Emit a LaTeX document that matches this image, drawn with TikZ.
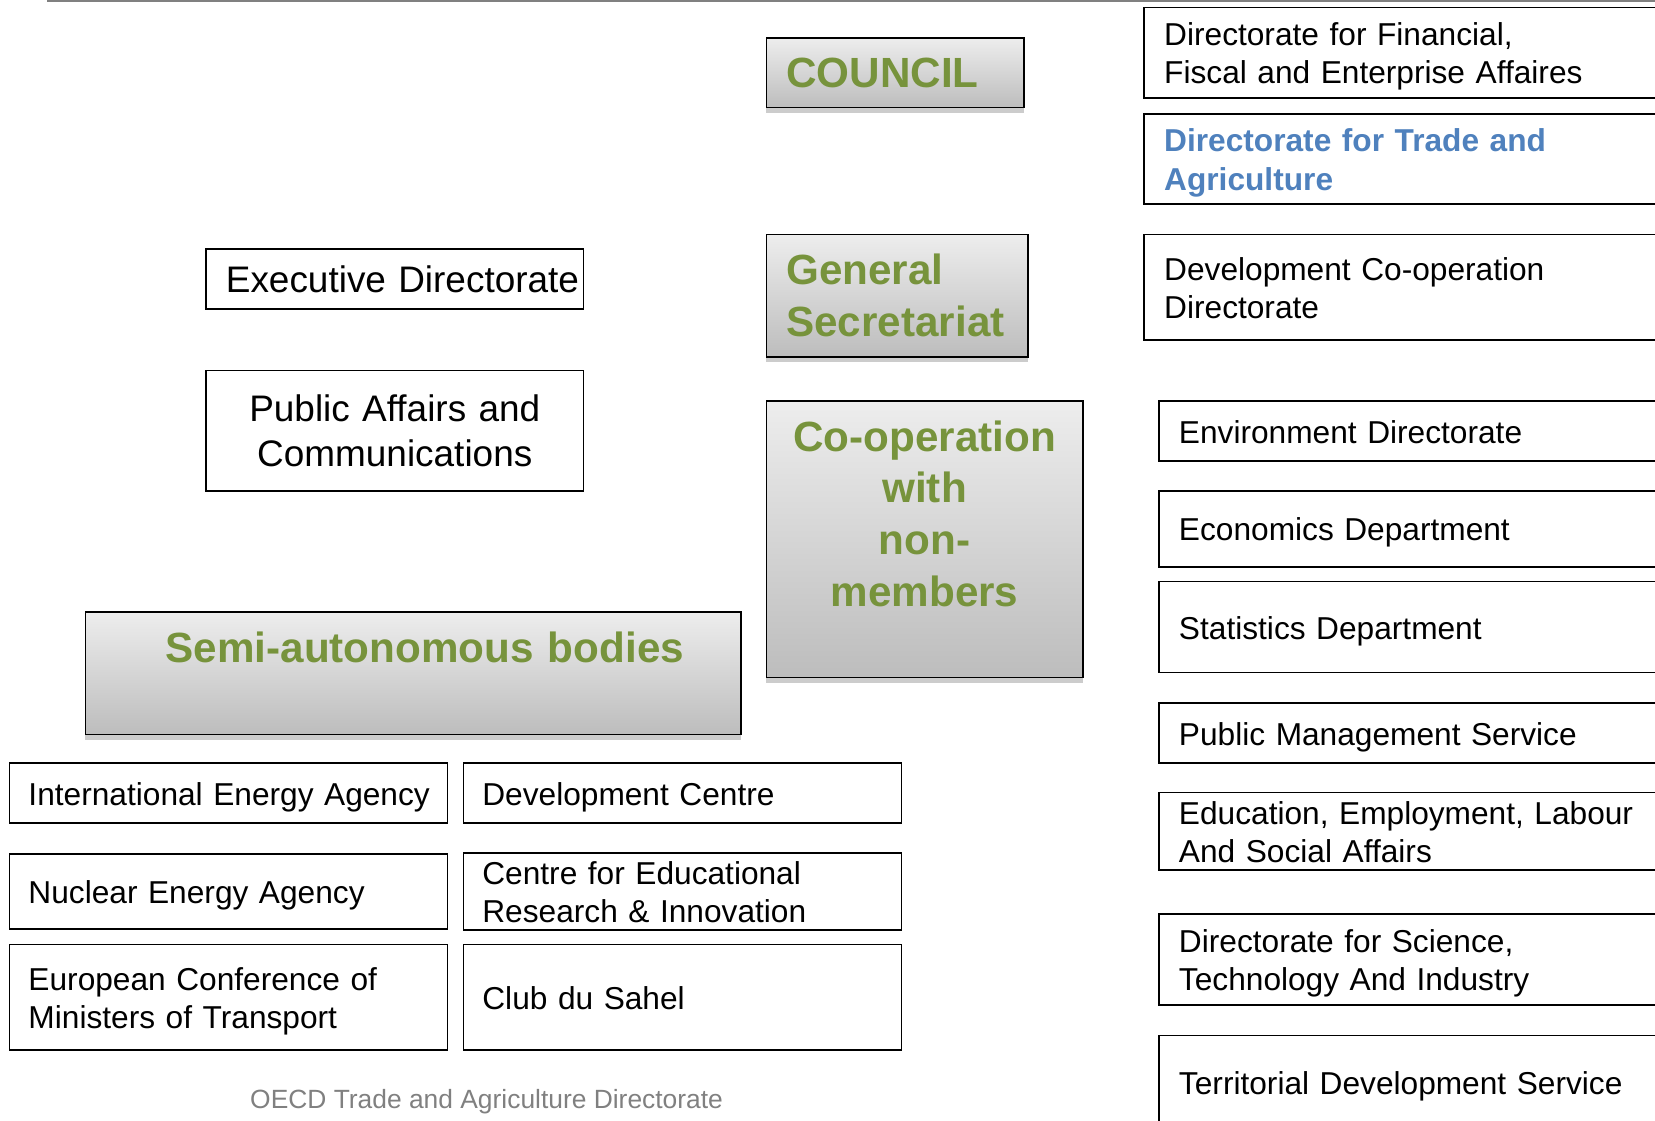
\documentclass[tikz,border=0pt]{standalone}
\usepackage{fontspec}
\setmainfont{Liberation Sans}
\usetikzlibrary{shadows}
\definecolor{oecdgreen}{HTML}{77933C}
\definecolor{oecdblue}{HTML}{4F81BD}
\tikzset{
  orgbox/.style = {rectangle, draw=black, line width=1.5pt, inner sep=0pt,
    align=left},
  org_g/.style = {orgbox, top color=black!7, bottom color=black!26,
    drop shadow={opacity=.4, shadow xshift=0pt, shadow yshift=-5pt},
    text=oecdgreen, font=\fontsize{40}{49}\selectfont\bfseries},% boite grise, titre vert
  org_t/.style = {orgbox, font=\fontsize{30}{36}\selectfont,
    execute at begin node={\rule{0pt}{30pt}},
    execute at end node={\rule[-7pt]{0pt}{7pt}}},% boite blanche, texte a gauche
  org_p/.style = {orgbox, font=\fontsize{35}{42}\selectfont}% boite blanche, grand texte
}

\begin{document}
\begin{tikzpicture}[x=1pt, y=-1pt]
\useasboundingbox (0,0) rectangle (1568,1062);
\clip (0,0) rectangle (1568,1062);
\coordinate (rule_l) at (45,1);
\coordinate (rule_r) at (1568,1);
\draw[black!50, line width=1.5pt] (rule_l) -- (rule_r);

% centre
\node[org_g, minimum width=244pt, minimum height=66pt, text width=206pt] (council) at (848,69) {COUNCIL};
\node[org_g, minimum width=248pt, minimum height=116pt, text width=210pt] (gensec) at (850,280) {General\\Secretariat};
\node[org_g, align=center, minimum width=300pt, minimum height=262pt, text width=280pt] (coop) at (876,511) {Co-operation\\with\\non-\\members\\\mbox{}};
\node[org_g, align=center, minimum width=621pt, minimum height=116pt, text width=600pt] (semi) at (391.5,638) {\hspace*{22pt}Semi-autonomous bodies\\\mbox{}};

% gauche
\node[org_p, minimum width=358pt, minimum height=57pt, text width=320pt] (exec) at (374,264.5) {\mbox{Executive Directorate}};
\node[org_p, align=center, minimum width=358pt, minimum height=114pt, text width=330pt] (pac) at (374,408) {Public Affairs and\\Communications};

\node[org_t, minimum width=415pt, minimum height=57pt, text width=379pt] (iea) at (216.5,751.5) {\mbox{International Energy Agency}};
\node[org_t, minimum width=415pt, minimum height=57pt, text width=379pt] (devc) at (646.5,751.5) {Development Centre};
\node[org_t, minimum width=415pt, minimum height=71pt, text width=379pt] (nea) at (216.5,844.5) {Nuclear Energy Agency};
\node[org_t, minimum width=415pt, minimum height=71pt, text width=379pt] (ceri) at (646.5,844.5) {Centre for Educational\\Research \& Innovation};
\node[org_t, minimum width=415pt, minimum height=100pt, text width=379pt] (ecmt) at (216.5,945) {European Conference of\\Ministers of Transport};
\node[org_t, minimum width=415pt, minimum height=100pt, text width=379pt] (sahel) at (646.5,945) {Club du Sahel};

\node[font=\fontsize{25}{30}\selectfont, text=black!50] (foot) at (461,1044) {OECD Trade and Agriculture Directorate};

% droite
\node[org_t, minimum width=520pt, minimum height=86pt, text width=482pt] (daf) at (1344,50) {Directorate for Financial,\\Fiscal and Enterprise Affaires};
\node[org_t, minimum width=520pt, minimum height=85pt, text width=482pt, text=oecdblue, font=\fontsize{30}{37}\selectfont\bfseries] (tad) at (1344,150.5) {Directorate for Trade and\\Agriculture};
\node[org_t, minimum width=520pt, minimum height=100pt, text width=482pt] (dcd) at (1344,272) {Development Co-operation\\Directorate};

\node[org_t, minimum width=506pt, minimum height=57pt, text width=468pt] (env) at (1351,408.5) {Environment Directorate};
\node[org_t, minimum width=506pt, minimum height=72pt, text width=468pt] (eco) at (1351,501) {Economics Department};
\node[org_t, minimum width=506pt, minimum height=86pt, text width=468pt] (std) at (1351,594) {Statistics Department};
\node[org_t, minimum width=506pt, minimum height=57pt, text width=468pt] (pum) at (1351,694.5) {Public Management Service};
\node[org_t, minimum width=506pt, minimum height=71pt, text width=468pt] (els) at (1351,787.5) {Education, Employment, Labour\\And Social Affairs};
\node[org_t, minimum width=506pt, minimum height=86pt, text width=468pt] (sti) at (1351,909) {Directorate for Science,\\Technology And Industry};
\node[org_t, minimum width=506pt, minimum height=88pt, text width=468pt] (tds) at (1351,1025) {Territorial Development Service};
\end{tikzpicture}
\end{document}
